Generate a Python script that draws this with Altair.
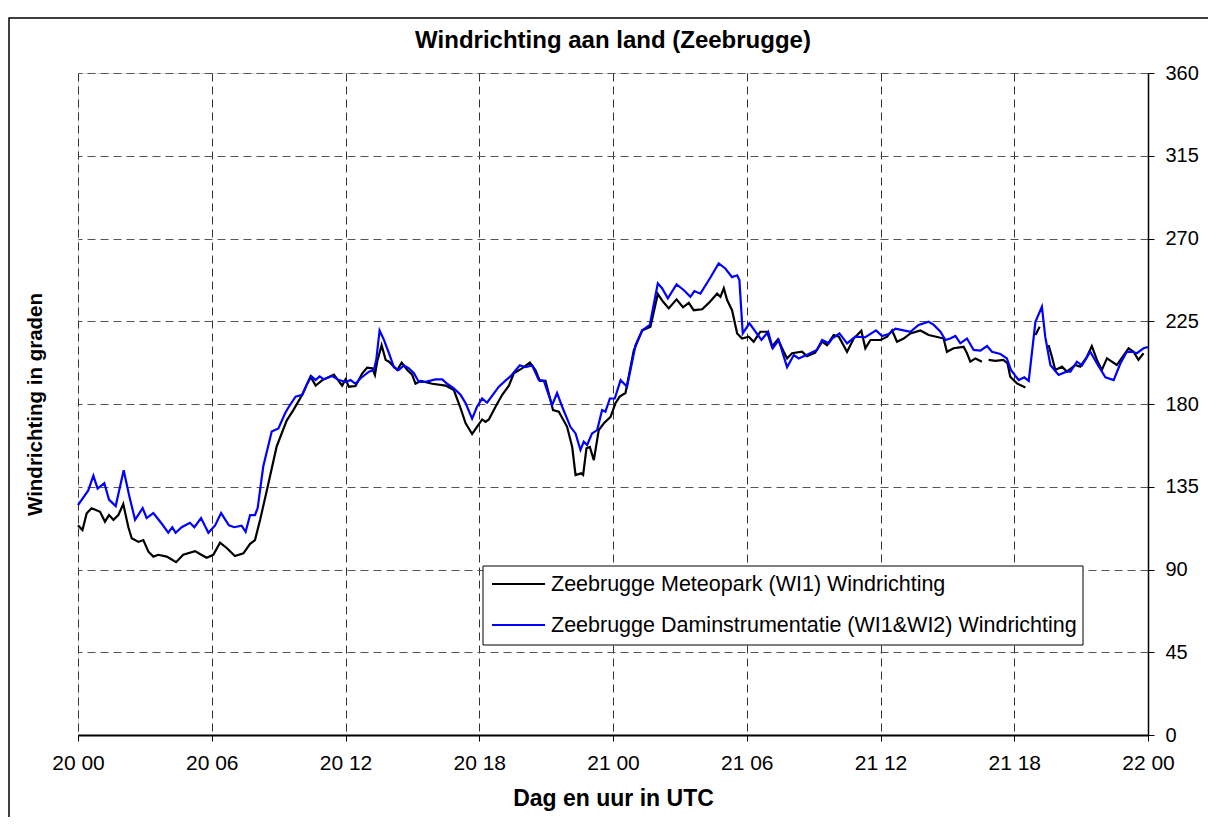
import altair as alt
import pandas as pd

# ---------------- data ----------------
tick_hours = [0, 6, 12, 18, 24, 30, 36, 42, 48]
tick_labels = ["20 00", "20 06", "20 12", "20 18", "21 00", "21 06", "21 12", "21 18", "22 00"]
y_ticks = [0, 45, 90, 135, 180, 225, 270, 315, 360]

chart_title = "Windrichting aan land (Zeebrugge)"
series_names = ["Zeebrugge Meteopark (WI1) Windrichting",
                "Zeebrugge Daminstrumentatie (WI1&WI2) Windrichting"]
series_colors = ["#000000", "#0000ff"]

# hours since 20 00 UTC ; None marks a gap in the record
black_hours = [0, 0.2, 0.39, 0.61, 0.99, 1.21, 1.39, 1.59, 1.81, 2.03, 2.26, 2.41, 2.71, 2.93,
               3.16, 3.38, 3.6, 3.98, 4.13, 4.4, 4.72, 5.25, 5.47, 5.77, 6.07, 6.37, 6.67, 7.04,
               7.42, 7.72, 7.94, 8.17, 8.47, 8.91, 9.36, 9.66, 10.06, 10.43, 10.66, 10.96, 11.48,
               11.85, 12.0, 12.15, 12.45, 12.75, 12.97, 13.2, 13.32, 13.42, 13.62, 13.8, 13.95,
               14.32, 14.52, 14.77, 14.99, 15.14, 15.37, 15.89, 16.49, 16.86, 17.16, 17.39, 17.68,
               17.9, 18.13, 18.28, 18.43, 18.73, 19.03, 19.33, 19.55, 19.92, 20.27, 20.52, 20.72,
               20.97, 21.31, 21.57, 21.94, 22.17, 22.32, 22.57, 22.66, 22.81, 22.96, 23.14, 23.36,
               23.59, 23.89, 24.11, 24.3, 24.56, 24.93, 25.31, 25.68, 26.01, 26.25, 26.5, 26.85,
               27.14, 27.4, 27.62, 28.0, 28.3, 28.67, 28.82, 28.97, 29.12, 29.34, 29.57, 29.79,
               30.09, 30.31, 30.61, 30.91, 31.13, 31.4, 31.66, 31.81, 32.03, 32.48, 32.7, 33.07,
               33.38, 33.6, 33.9, 34.13, 34.5, 34.8, 35.14, 35.32, 35.55, 36.0, 36.3, 36.52, 36.74,
               37.04, 37.34, 37.79, 38.16, 38.5, 38.83, 38.98, 39.28, 39.73, 39.88, 40.03, 40.26,
               40.55, 40.7, 40.85, 41.15, 41.52, 41.7, 41.82, 42.12, 42.5, 42.7, 42.95, 43.14,
               43.3, 43.54, 43.69, 43.84, 44.14, 44.36, 44.74, 44.96, 45.26, 45.48, 45.71, 45.93,
               46.16, 46.6, 47.13, 47.35, 47.57, 47.8]
black_values = [114, 111.5, 120.6, 123.3, 121.4, 116, 119.6, 117, 119.6, 125.6, 113, 107, 105, 106,
                99.7, 97, 98, 97, 96, 94, 98, 100, 98.4, 96.4, 98, 104.6, 101.7, 97.3,
                98.8, 104, 106, 117, 133, 156.8, 171, 176.7, 185, 195, 190, 193, 196,
                190, 193.4, 189.4, 189.8, 196.7, 199.7, 199.4, 195.8, 203, 212, 204, 203,
                198.5, 202.5, 198.5, 196, 191, 192.5, 191, 190, 187.6, 177.7, 169.5, 163.7,
                167.6, 171.6, 170.3, 171.6, 178.5, 185, 190, 196.7, 199.4, 202.5, 198.5, 192.6,
                192.6, 176.7, 175.8, 167.6, 156.6, 141.4, 142.3, 141.4, 155.9, 156.6, 149.5, 165.8,
                169.5, 173, 180.4, 184, 186, 209, 220, 222, 239.8, 235.6, 232, 236.9,
                232.6, 235, 231, 231.5, 235, 240, 238.3, 243, 236.5, 231, 218.4, 215.6,
                216.6, 213.9, 219.3, 219.3, 211.1, 215.2, 208.4, 204.8, 207.6, 208.4, 206, 207.9,
                213.9, 212, 217.5, 216.6, 208.4, 215.6, 219.8, 210.3, 214.8, 214.8, 216.6, 220, 213.9,
                215.6, 218.4, 220, 217.5, 216.6, 215.6, 208.4, 210.3, 211.1, 207.6, 203, 204.8,
                203, None, 204, 203.5, 204, 202, 194.8, 191.2, 189, None, 217.5, 222,
                None, 212, 205.7, 198.5, 200.3, 197.6, 201.2, 200.3, 205.7, 211.5, 204, 198.5,
                204.8, 201.2, 210.3, 208.4, 204, 207.6]

blue_hours = [0, 0.46, 0.69, 0.88, 1.18, 1.39, 1.69, 2.05, 2.29, 2.56, 2.9, 3.08, 3.38, 3.75,
              4.05, 4.23, 4.38, 4.65, 5.02, 5.22, 5.52, 5.85, 6.15, 6.42, 6.77, 7.01, 7.34, 7.52,
              7.72, 7.94, 8.06, 8.31, 8.69, 8.99, 9.29, 9.46, 9.76, 10.06, 10.28, 10.48, 10.66,
              10.84, 11.03, 11.4, 11.7, 12.0, 12.23, 12.45, 12.68, 13.05, 13.27, 13.38, 13.53,
              13.72, 13.95, 14.17, 14.39, 14.62, 14.84, 15.07, 15.29, 15.59, 16.04, 16.34, 16.56,
              16.86, 17.16, 17.39, 17.68, 17.9, 18.13, 18.35, 18.88, 19.2, 19.4, 19.82, 20.07,
              20.37, 20.67, 20.9, 21.27, 21.49, 21.72, 22.09, 22.32, 22.54, 22.69, 22.84, 23.06,
              23.29, 23.51, 23.66, 23.86, 24.08, 24.34, 24.63, 25.01, 25.31, 25.65, 26.01, 26.2,
              26.46, 26.85, 27.17, 27.47, 27.65, 27.92, 28.37, 28.74, 29.04, 29.34, 29.57, 29.67,
              29.82, 30.12, 30.39, 30.66, 30.96, 31.17, 31.43, 31.81, 32.11, 32.33, 32.78, 33.15,
              33.38, 33.68, 33.83, 34.16, 34.5, 34.87, 35.32, 35.8, 36.07, 36.37, 36.67, 37.04,
              37.34, 37.71, 38.16, 38.39, 38.69, 38.91, 39.13, 39.36, 39.58, 39.88, 40.18, 40.48,
              40.78, 41.0, 41.38, 41.67, 41.85, 42.2, 42.45, 42.65, 42.95, 43.24, 43.39, 43.62,
              43.99, 44.34, 44.52, 44.81, 45.04, 45.41, 45.71, 46.09, 46.46, 46.76, 47.05, 47.28,
              47.5, 47.8, 48]
blue_values = [125, 133, 141, 134, 137, 128, 124.5, 144, 130.5, 117, 123.4, 118, 120.7, 115,
               110, 113, 110, 113, 115.4, 113, 118, 110, 114, 120.7, 114, 113, 113.8, 110.5,
               119.6, 119.6, 123.4, 146, 165, 166.7, 175, 178.5, 184, 185, 191, 195, 193,
               195, 193.4, 195.2, 193, 192, 193, 191, 194, 197.6, 198.5, 204, 220,
               215, 207.6, 200, 198.5, 201, 199.4, 196.7, 192, 192, 193.4, 193.4, 191,
               188.5, 185, 180.4, 172, 178.5, 183, 180.7, 189.4, 193, 195, 201, 200,
               201, 193, 192.6, 179.4, 186, 178.5, 167.6, 164, 155, 159.5, 157.7, 164,
               165.8, 176.7, 175.8, 183, 183, 193, 189.4, 212, 220, 223, 245.6, 243,
               237.5, 245, 242, 238.3, 241.4, 240, 248.8, 256.5, 253.7, 249, 250, 247.4,
               218.4, 223.9, 219.3, 214.8, 219.3, 210.3, 214.8, 200, 206.6, 204.8, 207.2, 209.4,
               214.8, 213, 215.6, 218.4, 213, 216.6, 216.3, 220, 217, 218, 221, 220,
               219.3, 223, 224.7, 223, 219.3, 214.8, 215.6, 217, 213, 215.6, 209.4, 209,
               211.5, 208.4, 207.2, 204.8, 198.5, 193, 194.5, 192.6, 224.7, 232.9, 216.6, 201.2,
               195.8, 197.6, 197.6, 203, 201, 208.4, 202, 194.5, 193, 202, 208.4, 208.4,
               207.6, 210.3, 211]

# ---------------- table ----------------
rows = []
for name, hours, values in [(series_names[0], black_hours, black_values),
                            (series_names[1], blue_hours, blue_values)]:
    seg = 0
    for h, v in zip(hours, values):
        if v is None:
            seg += 1
            continue
        rows.append({"uur": h, "graden": v, "reeks": name, "seg": f"{name}-{seg}"})
df = pd.DataFrame(rows)

FONT = "Liberation Sans"
W, H = 1070, 662

label_expr = "[" + ",".join(f"'{t}'" for t in tick_labels) + "][round(datum.value / 6)]"

x_enc = alt.X("uur:Q",
              scale=alt.Scale(domain=[0, 48], nice=False),
              axis=alt.Axis(values=tick_hours, labelExpr=label_expr, title="Dag en uur in UTC",
                            grid=True, gridDash=[8, 5], gridColor="#333333", gridWidth=1,
                            domainColor="#000000", domainWidth=2, tickColor="#000000",
                            tickSize=6, labelFontSize=21, labelPadding=11, labelColor="#000000",
                            labelFlush=False, labelOverlap=False,
                            titleFontSize=23, titleFontWeight="bold", titlePadding=14,
                            titleColor="#000000", labelFont=FONT, titleFont=FONT))
y_enc = alt.Y("graden:Q",
              scale=alt.Scale(domain=[0, 360], nice=False),
              axis=alt.Axis(orient="right", values=y_ticks, title="Windrichting in graden",
                            grid=True, gridDash=[8, 5], gridColor="#555555", gridWidth=1,
                            domainColor="#000000", domainWidth=1.5, tickColor="#000000",
                            tickSize=6, labelFontSize=20, labelPadding=11, labelColor="#000000",
                            labelFont=FONT, titleFont=FONT, titleFontSize=20.5,
                            titleFontWeight="bold", titleColor="#000000",
                            titleX=-(W + 43), titleY=H / 2, titleAngle=270,
                            titleAlign="center", titleBaseline="middle"))
color_enc = alt.Color("reeks:N",
                      scale=alt.Scale(domain=series_names, range=series_colors),
                      legend=None)

base = alt.Chart(df).mark_line(strokeWidth=2.2).encode(
    x=x_enc, y=y_enc, color=color_enc, detail="seg:N", order="uur:Q")

black_layer = base.transform_filter(alt.datum.reeks == series_names[0])
blue_layer = base.transform_filter(alt.datum.reeks == series_names[1])

single = pd.DataFrame({"t": [chart_title]})
frame = alt.Chart(single).mark_rect(
    fillOpacity=0, stroke="#000000", strokeWidth=1.5).encode(
    x=alt.value(-69), x2=alt.value(W + 80), y=alt.value(-55), y2=alt.value(H + 100))
title_mark = alt.Chart(single).mark_text(
    font=FONT, fontSize=24, fontWeight="bold", color="#000000",
    align="center", baseline="middle").encode(
    text="t:N", x=alt.value(W / 2), y=alt.value(-32))

# ---- legend box (drawn by hand so the rows match the reference spacing) ----
LX, LY, LW, LH = 405, 493, 600, 79
legend_box = alt.Chart(single).mark_rect(
    fill="#ffffff", stroke="#000000", strokeWidth=1).encode(
    x=alt.value(LX), x2=alt.value(LX + LW), y=alt.value(LY), y2=alt.value(LY + LH))
legend_layers = [legend_box]
for i, (name, col) in enumerate(zip(series_names, series_colors)):
    ry = LY + 18 + i * 41
    item = pd.DataFrame({"naam": [name]})
    legend_layers.append(alt.Chart(item).mark_rule(color=col, strokeWidth=2.2).encode(
        x=alt.value(LX + 9), x2=alt.value(LX + 62), y=alt.value(ry)))
    legend_layers.append(alt.Chart(item).mark_text(
        font=FONT, fontSize=21.5, color="#000000", align="left", baseline="middle").encode(
        text="naam:N", x=alt.value(LX + 68), y=alt.value(ry + 1)))

chart = alt.layer(frame, black_layer, blue_layer, title_mark, *legend_layers).properties(
    width=W, height=H,
    autosize=alt.AutoSizeParams(type="none"),
    padding={"left": 70, "top": 65, "right": 60, "bottom": 82},
).configure_view(stroke="#c0c0c0", strokeWidth=2).configure(background="#ffffff")

chart.save("out.html", embed_options={"renderer": "svg", "actions": False})
